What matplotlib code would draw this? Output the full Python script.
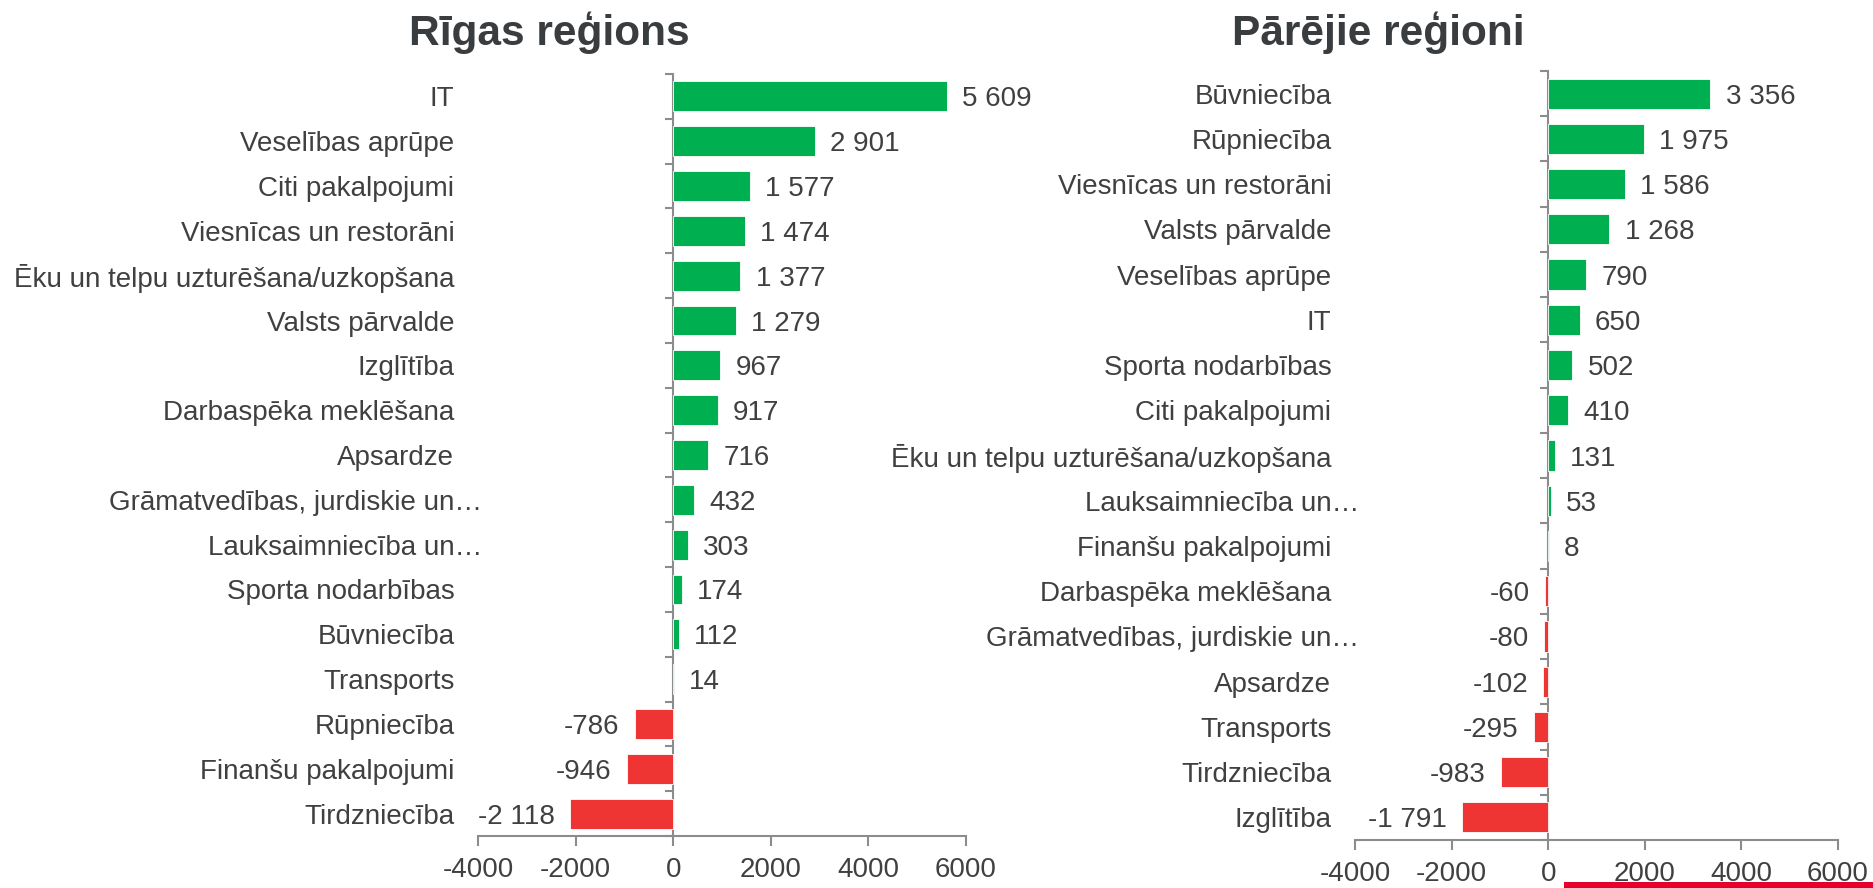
import matplotlib
matplotlib.use("Agg")
import matplotlib.pyplot as plt
import matplotlib.patches as patches
from matplotlib.transforms import ScaledTranslation
import numpy as np

plt.rcParams["font.family"] = ["Liberation Sans", "DejaVu Sans"]

# Rīgas reģions
riga_cat = ["IT", "Veselības aprūpe", "Citi pakalpojumi", "Viesnīcas un restorāni",
            "Ēku un telpu uzturēšana/uzkopšana", "Valsts pārvalde", "Izglītība",
            "Darbaspēka meklēšana", "Apsardze", "Grāmatvedības, jurdiskie un…",
            "Lauksaimniecība un…", "Sporta nodarbības", "Būvniecība", "Transports",
            "Rūpniecība", "Finanšu pakalpojumi", "Tirdzniecība"]
riga_val = [5609, 2901, 1577, 1474, 1377, 1279, 967, 917, 716, 432, 303, 174, 112, 14,
            -786, -946, -2118]

# Pārējie reģioni
other_cat = ["Būvniecība", "Rūpniecība", "Viesnīcas un restorāni", "Valsts pārvalde",
             "Veselības aprūpe", "IT", "Sporta nodarbības", "Citi pakalpojumi",
             "Ēku un telpu uzturēšana/uzkopšana", "Lauksaimniecība un…",
             "Finanšu pakalpojumi", "Darbaspēka meklēšana",
             "Grāmatvedības, jurdiskie un…", "Apsardze", "Transports", "Tirdzniecība",
             "Izglītība"]
other_val = [3356, 1975, 1586, 1268, 790, 650, 502, 410, 131, 53, 8, -60, -80, -102,
             -295, -983, -1791]

titles = ["Rīgas reģions", "Pārējie reģioni"]
xticks = [-4000, -2000, 0, 2000, 4000, 6000]

GREEN = "#00B050"
RED = "#EE3533"
TEXT = "#404040"
AXIS = "#8C8C8C"
FS = 20

W, H = 1874, 888
fig = plt.figure(figsize=(W / 100, H / 100), dpi=100)

# axes boxes in pixels: left, right(x), top, bottom(y)
boxes = [(478, 966, 74, 836), (1355, 1838, 71, 840)]
title_x = [549, 1378]


def fmt(v):
    return f"{v:,}".replace(",", " ")


for (x0, x1, y0, y1), cats, vals, title, tx in zip(
        boxes, [riga_cat, other_cat], [riga_val, other_val], titles, title_x):
    ax = fig.add_axes([x0 / W, 1 - y1 / H, (x1 - x0) / W, (y1 - y0) / H])
    n = len(cats)
    y = np.arange(n)
    vals = np.array(vals)
    colors = [GREEN if v >= 0 else RED for v in vals]
    bars = ax.barh(y, vals, height=0.667, color=colors, edgecolor="white", linewidth=0.6)
    texts = ax.bar_label(bars, labels=[fmt(v) for v in vals], padding=11,
                         fontsize=FS, color=TEXT)
    for t in texts:
        t.set_va("center_baseline")

    ax.set_xlim(-4000, 6000)
    ax.set_ylim(n - 0.5, -0.5)
    ax.set_xticks(xticks)
    ax.set_xticklabels([str(t) for t in xticks])
    ax.tick_params(axis="x", length=7, width=1.5, color=AXIS, labelsize=FS,
                   labelcolor=TEXT, pad=8)
    ax.set_yticks(y)
    ax.set_yticklabels(cats)
    ax.tick_params(axis="y", length=0, labelsize=FS, labelcolor=TEXT, pad=17)
    # truncated labels sit a bit further right, like in the original
    for lbl in ax.get_yticklabels():
        if lbl.get_text().endswith("…"):
            lbl.set_transform(lbl.get_transform() +
                              ScaledTranslation(0.28, 0, fig.dpi_scale_trans))
    for s in ["top", "right", "left"]:
        ax.spines[s].set_visible(False)
    ax.spines["bottom"].set_color(AXIS)
    ax.spines["bottom"].set_linewidth(1.5)

    # zero line with category separators
    zero = ax.secondary_yaxis(0.4)
    zero.set_yticks(np.arange(n + 1) - 0.5)
    zero.set_yticklabels([])
    zero.tick_params(length=6, width=1.5, color=AXIS)
    zero.spines["left"].set_color(AXIS)
    zero.spines["left"].set_linewidth(1.5)

    fig.text(tx / W, 1 - 45 / H, title, ha="center", va="baseline",
             fontsize=30.5, fontweight="bold", color="#3A3D3F")

# footer accent line
fig.add_artist(patches.Rectangle((1564 / W, 0), (W - 1564) / W, 6 / H,
                                 transform=fig.transFigure, color="#E4002B", lw=0))

fig.savefig("out.png", dpi=100)
